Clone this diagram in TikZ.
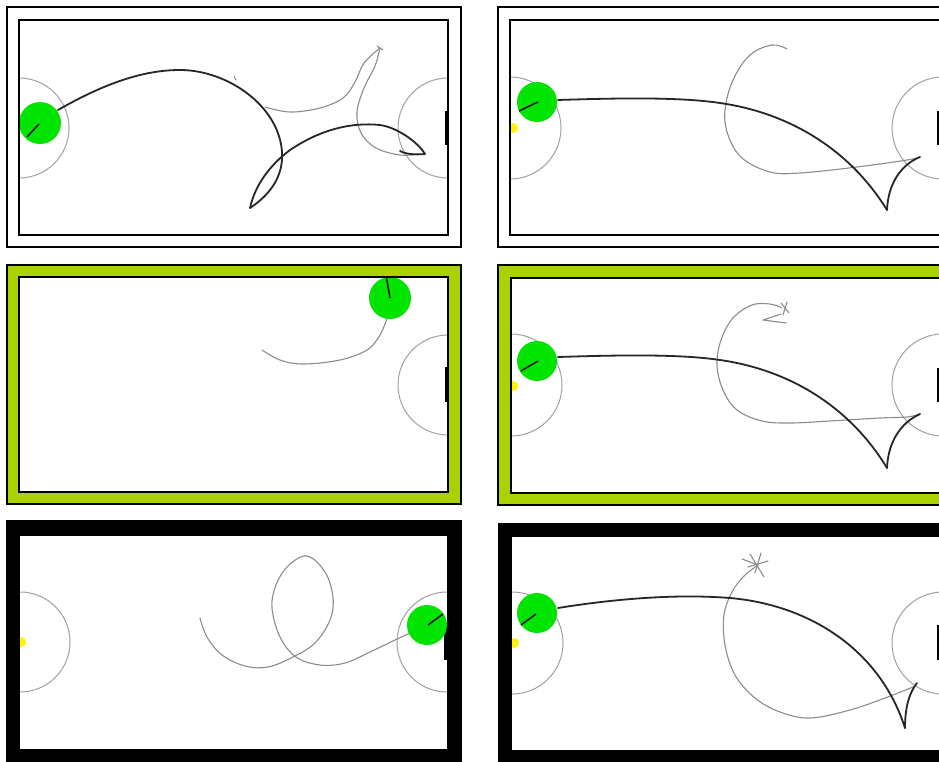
\documentclass[tikz,border=0pt]{standalone}
\begin{document}
\begin{tikzpicture}[x=1pt,y=-1pt,
  circ/.style={draw=circgray,line width=1pt},
  gpath/.style={draw=pathgray,line width=1.1pt,line cap=round,line join=round},
  bpath/.style={draw=black!85,line width=1.8pt,line cap=round,line join=round},
  goalbox/.style={fill=black},
  ball/.style={fill=ballgreen},
  dir/.style={draw=black,line width=1.4pt},
  yel/.style={fill=yellow},
  innerframe/.style={draw=black,line width=1.8pt},
  outerframe/.style={draw=black,line width=1.3pt}]
\definecolor{ballgreen}{RGB}{0,228,0}
\definecolor{framegreen}{RGB}{170,209,0}
\definecolor{pathgray}{RGB}{140,140,140}
\definecolor{circgray}{RGB}{160,160,160}
\useasboundingbox (0,0) rectangle (939,762);
\clip (0,0) rectangle (939,762);
\fill[white] (0,0) rectangle (939,762);

% ---------- Panel 1 (top left)
\draw[outerframe] (7,7) rectangle (461,247);
\begin{scope}
\clip (19,20) rectangle (448,235);
\draw[circ] (19,128) circle (50);
\draw[circ] (448,128) circle (50);
\fill[goalbox] (445,111) rectangle (448,145);
\draw[gpath] (234,76) -- (236,80);
\draw[gpath] plot[smooth,tension=0.6] coordinates {(265,107) (290,112) (320,108) (343,98) (355,82) (364,63) (380,48)};
\draw[gpath] (377,46) -- (383,50);
\draw[gpath] plot[smooth,tension=0.6] coordinates {(380,48) (375,66) (364,88) (357,112) (361,133) (376,148) (400,155) (420,154)};
\draw[bpath] (58,110) .. controls (100,86) and (140,70) .. (180,70) .. controls (230,70) and (285,110) .. (282,160) .. controls (280,185) and (262,200) .. (250,208);
\draw[bpath] (250,208) .. controls (255,185) and (270,165) .. (290,150) .. controls (320,130) and (350,122) .. (380,125) .. controls (400,128) and (420,145) .. (425,154) .. controls (415,155) and (405,154) .. (400,151);
\fill[ball] (40,123) circle (21);
\draw[dir] (27,137) -- (39,124);
\end{scope}
\draw[innerframe] (19,20) rectangle (448,235);

% ---------- Panel 2 (top right)
\draw[outerframe] (498,7) rectangle (956,247);
\begin{scope}
\clip (510,20) rectangle (943,235);
\draw[circ] (510,128) circle (51);
\draw[circ] (943,128) circle (51);
\fill[goalbox] (937,111) rectangle (943,145);
\draw[gpath] plot[smooth,tension=0.6] coordinates {(787,49) (772,45) (750,55) (733,80) (725,110) (728,135) (742,158) (770,172) (800,173) (857,167) (907,160) (920,157)};
\draw[bpath] (558,100) .. controls (620,98) and (680,97) .. (720,103) .. controls (790,113) and (850,150) .. (887,210);
\draw[bpath] (887,210) .. controls (888,185) and (900,165) .. (920,157);
\fill[yel] (513,128) circle (5);
\fill[ball] (537,102) circle (20);
\draw[dir] (519,111) -- (538,102);
\end{scope}
\draw[innerframe] (510,20) rectangle (950,235);

% ---------- Panel 3 (middle left)
\filldraw[fill=framegreen,outerframe] (7,265) rectangle (461,504);
\fill[white] (19,277) rectangle (448,492);
\begin{scope}
\clip (19,277) rectangle (448,492);
\draw[circ] (448,385) circle (50);
\fill[goalbox] (445,367) rectangle (448,402);
\draw[gpath] plot[smooth,tension=0.6] coordinates {(387,318) (380,335) (367,350) (340,360) (303,364) (280,360) (262,350)};
\fill[ball] (390,298) circle (21);
\draw[dir] (386,275) -- (390,298);
\end{scope}
\draw[innerframe] (19,277) rectangle (448,492);

% ---------- Panel 4 (middle right)
\filldraw[fill=framegreen,outerframe] (498,265) rectangle (960,505);
\fill[white] (511,278) rectangle (943,493);
\begin{scope}
\clip (511,278) rectangle (943,493);
\draw[circ] (511,385) circle (51);
\draw[circ] (943,385) circle (51);
\fill[goalbox] (937,368) rectangle (943,402);
\draw[gpath] plot[smooth,tension=0.6] coordinates {(782,308) (770,304) (752,305) (733,318) (721,340) (717,365) (723,390) (737,410) (762,421) (790,423) (830,421) (880,418) (907,417) (920,414)};
\draw[gpath] (781,314) -- (763,320) -- (786,323);
\draw[gpath] (781,303) -- (789,313);
\draw[gpath] (787,302) -- (783,315);
\draw[bpath] (558,357) .. controls (620,355) and (680,354) .. (720,360) .. controls (790,370) and (850,407) .. (887,468);
\draw[bpath] (887,468) .. controls (888,443) and (900,423) .. (920,414);
\fill[yel] (513,386) circle (5);
\fill[ball] (537,361) circle (20);
\draw[dir] (521,371) -- (538,361);
\end{scope}
\draw[innerframe] (511,278) rectangle (950,493);

% ---------- Panel 5 (bottom left)
\fill[black] (6,520) rectangle (462,770);
\fill[white] (20,536) rectangle (447,749);
\begin{scope}
\clip (20,536) rectangle (447,749);
\draw[circ] (20,642) circle (50);
\draw[circ] (447,642) circle (50);
\fill[goalbox] (444,625) rectangle (447,660);
\draw[gpath] plot[smooth,tension=0.6] coordinates {(200,618) (207,637) (222,655) (245,666) (268,667) (293,657) (315,643) (330,620) (333,597) (325,572) (307,556) (288,566) (276,585) (272,608) (280,637) (296,657) (320,665) (345,663) (370,652) (395,640) (412,632)};
\fill[yel] (21,642) circle (5);
\fill[ball] (427,625) circle (20);
\draw[dir] (428,625) -- (443,614);
\end{scope}

% ---------- Panel 6 (bottom right)
\fill[black] (498,523) rectangle (960,770);
\fill[white] (512,537) rectangle (950,750);
\begin{scope}
\clip (512,537) rectangle (950,750);
\draw[circ] (512,643) circle (51);
\draw[circ] (943,643) circle (51);
\fill[goalbox] (937,625) rectangle (943,660);
\draw[gpath] (742,559) -- (758,565);
\draw[gpath] (750,554) -- (764,577);
\draw[gpath] (761,553) -- (755,573);
\draw[gpath] (748,567) -- (768,561);
\draw[gpath] plot[smooth,tension=0.6] coordinates {(758,565) (744,576) (732,592) (724,615) (725,645) (735,675) (755,698) (780,712) (810,718) (850,710) (885,698) (913,687)};
\draw[bpath] (558,608) .. controls (620,598) and (680,594) .. (730,598) .. controls (810,605) and (880,650) .. (905,728);
\draw[bpath] (905,728) .. controls (905,705) and (910,692) .. (917,683);
\fill[yel] (514,643) circle (5);
\fill[ball] (537,613) circle (20);
\draw[dir] (521,625) -- (536,614);
\end{scope}
\end{tikzpicture}
\end{document}
